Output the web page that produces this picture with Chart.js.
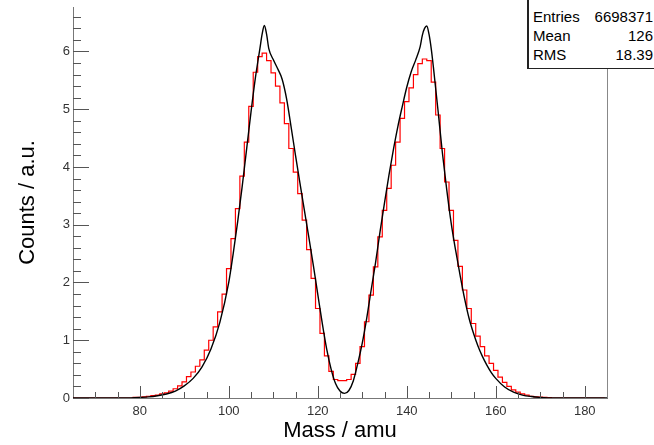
<!DOCTYPE html>
<html>
<head>
<meta charset="utf-8">
<script src="https://cdn.jsdelivr.net/npm/chart.js@4"></script>
<style>
html,body{margin:0;padding:0;background:#fff;}
#wrap{position:relative;width:654px;height:445px;overflow:hidden;}
#c{position:absolute;left:0;top:0;}
#stats{position:absolute;left:527px;top:-1px;width:140px;height:68px;border:1px solid #222;border-left:2px solid #222;background:#fff;font-family:"Liberation Sans",Arial,sans-serif;font-size:15px;color:#000;}
.row{position:absolute;left:4px;width:120px;height:19px;line-height:19px;}
.row .k{position:absolute;left:0;}
.row .v{position:absolute;right:0;}
</style>
</head>
<body>
<div id="wrap">
<canvas id="c" width="654" height="445"></canvas>
<div id="stats">
  <div class="row" style="top:7px"><span class="k">Entries</span><span class="v">6698371</span></div>
  <div class="row" style="top:26px"><span class="k">Mean</span><span class="v">126</span></div>
  <div class="row" style="top:45px"><span class="k">RMS</span><span class="v">18.39</span></div>
</div>
</div>
<script>
// Histogram bin centres (amu), bin width 1
const massBins = [65,66,67,68,69,70,71,72,73,74,75,76,77,78,79,80,81,82,83,84,85,86,87,88,89,90,91,92,93,94,95,96,97,98,99,100,101,102,103,104,105,106,107,108,109,110,111,112,113,114,115,116,117,118,119,120,121,122,123,124,125,126,127,128,129,130,131,132,133,134,135,136,137,138,139,140,141,142,143,144,145,146,147,148,149,150,151,152,153,154,155,156,157,158,159,160,161,162,163,164,165,166,167,168,169,170,171,172,173,174,175,176,177,178,179,180,181,182,183,184];
// Red histogram counts (a.u.)
const redCounts = [0,0,0,0,0,0,0,0,0,0,0,0,0,0,0.01,0.01,0.02,0.03,0.04,0.05,0.07,0.09,0.12,0.16,0.21,0.28,0.37,0.45,0.55,0.66,0.83,1.00,1.23,1.49,1.80,2.24,2.76,3.28,3.84,4.43,5.05,5.64,5.91,5.97,5.84,5.63,5.40,5.11,4.75,4.32,3.91,3.54,3.08,2.57,2.07,1.55,1.12,0.73,0.46,0.32,0.30,0.30,0.32,0.41,0.60,0.89,1.32,1.78,2.27,2.79,3.25,3.63,4.03,4.43,4.84,5.13,5.37,5.60,5.79,5.87,5.84,5.47,4.90,4.32,3.74,3.25,2.73,2.28,1.87,1.55,1.29,1.07,0.89,0.73,0.60,0.48,0.36,0.27,0.20,0.14,0.10,0.07,0.05,0.03,0.02,0.015,0.01,0.005,0,0,0,0,0,0,0,0,0,0,0,0];
// Black curve
const curveMass = [65,75,78,80,82,84,86,88,90,92,94,96,98,100,101,102,103,104,105,106,107,107.5,108,108.5,109,110,111,112,113,114,115,116,117,118,119,120,121,122,123,124,125,126,127,128,129,130,131,132,133,134,135,136,137,138,139,140,141,142,143,143.5,144,144.5,145,145.5,146,147,148,149,150,151,152,153,154,155,156,157,158,159,160,162,164,166,168,170,173,185];
const curveCounts = [0,0,0.003,0.01,0.02,0.04,0.07,0.12,0.21,0.34,0.54,0.85,1.31,2.00,2.50,3.05,3.65,4.30,4.95,5.55,6.05,6.30,6.45,6.30,6.05,5.86,5.70,5.52,5.18,4.70,4.20,3.72,3.25,2.78,2.30,1.80,1.30,0.85,0.50,0.25,0.12,0.08,0.13,0.30,0.60,0.95,1.38,1.87,2.35,2.88,3.38,3.86,4.30,4.70,5.05,5.38,5.65,5.85,6.08,6.28,6.40,6.44,6.30,6.05,5.72,5.00,4.25,3.60,3.02,2.55,2.12,1.72,1.38,1.12,0.90,0.72,0.57,0.44,0.34,0.19,0.10,0.05,0.025,0.01,0,0];
const xTicks = [80,100,120,140,160,180];
const yTicks = [0,1,2,3,4,5,6];

const histPoints = massBins.map((m,i)=>({x:m-0.5,y:redCounts[i]}));
histPoints.push({x:massBins[massBins.length-1]+0.5,y:0});
const curvePoints = curveMass.map((m,i)=>({x:m,y:curveCounts[i]}));

const frameTicks = {
  id:'frameTicks',
  afterDatasetsDraw(chart){
    const {ctx, chartArea:a, scales:{x,y}} = chart;
    ctx.save();
    ctx.strokeStyle = '#555';
    ctx.lineWidth = 1;
    ctx.beginPath();
    for (let k=0;k<=33;k++){
      const py = Math.round(y.getPixelForValue(k/5))+0.5;
      const len = (k%5===0)?16:8;
      ctx.moveTo(a.left, py); ctx.lineTo(a.left+len, py);
    }
    for (let v=70; v<=185; v+=5){
      const px = Math.round(x.getPixelForValue(v))+0.5;
      const len = (v%20===0)?12:6;
      ctx.moveTo(px, a.bottom); ctx.lineTo(px, a.bottom-len);
    }
    ctx.stroke();
    ctx.strokeStyle = '#888';
    ctx.beginPath();
    ctx.moveTo(Math.round(a.right)+0.5, 68);
    ctx.lineTo(Math.round(a.right)+0.5, a.bottom);
    ctx.stroke();
    ctx.restore();
  }
};

const font = 'Liberation Sans';
new Chart(document.getElementById('c'), {
  type:'line',
  data:{datasets:[
    {data:histPoints, borderColor:'#ff0000', borderWidth:1.2, stepped:true, pointRadius:0, fill:false, order:2},
    {data:curvePoints, borderColor:'#000000', borderWidth:1.4, cubicInterpolationMode:'monotone', pointRadius:0, fill:false, order:1}
  ]},
  options:{
    responsive:false, animation:false, devicePixelRatio:1,
    layout:{padding:{left:0,top:7,right:47,bottom:0}},
    plugins:{legend:{display:false}, tooltip:{enabled:false}},
    scales:{
      x:{type:'linear', min:65, max:185,
        afterBuildTicks:s=>{s.ticks = xTicks.map(v=>({value:v}));},
        afterFit:s=>{s.height = 47; s.paddingLeft = 0; s.paddingRight = 0;},
        grid:{display:true, drawOnChartArea:false, drawTicks:false},
        border:{display:true, color:'#777', width:1},
        ticks:{padding:6, autoSkip:false, maxRotation:0, color:'#333', font:{family:font, size:13}},
        title:{display:true, text:'Mass / amu', color:'#000', font:{family:font, size:22}, padding:{top:0,bottom:1}}
      },
      y:{type:'linear', min:0, max:6.77,
        afterBuildTicks:s=>{s.ticks = yTicks.map(v=>({value:v}));},
        afterFit:s=>{s.width = 73; s.paddingTop = 0; s.paddingBottom = 0;},
        grid:{display:true, drawOnChartArea:false, drawTicks:false},
        border:{display:true, color:'#777', width:1},
        ticks:{padding:3, color:'#333', font:{family:font, size:13}},
        title:{display:true, text:'Counts / a.u.', color:'#000', font:{family:font, size:22}, padding:{top:15,bottom:0}}
      }
    }
  },
  plugins:[frameTicks]
});
</script>
</body>
</html>
